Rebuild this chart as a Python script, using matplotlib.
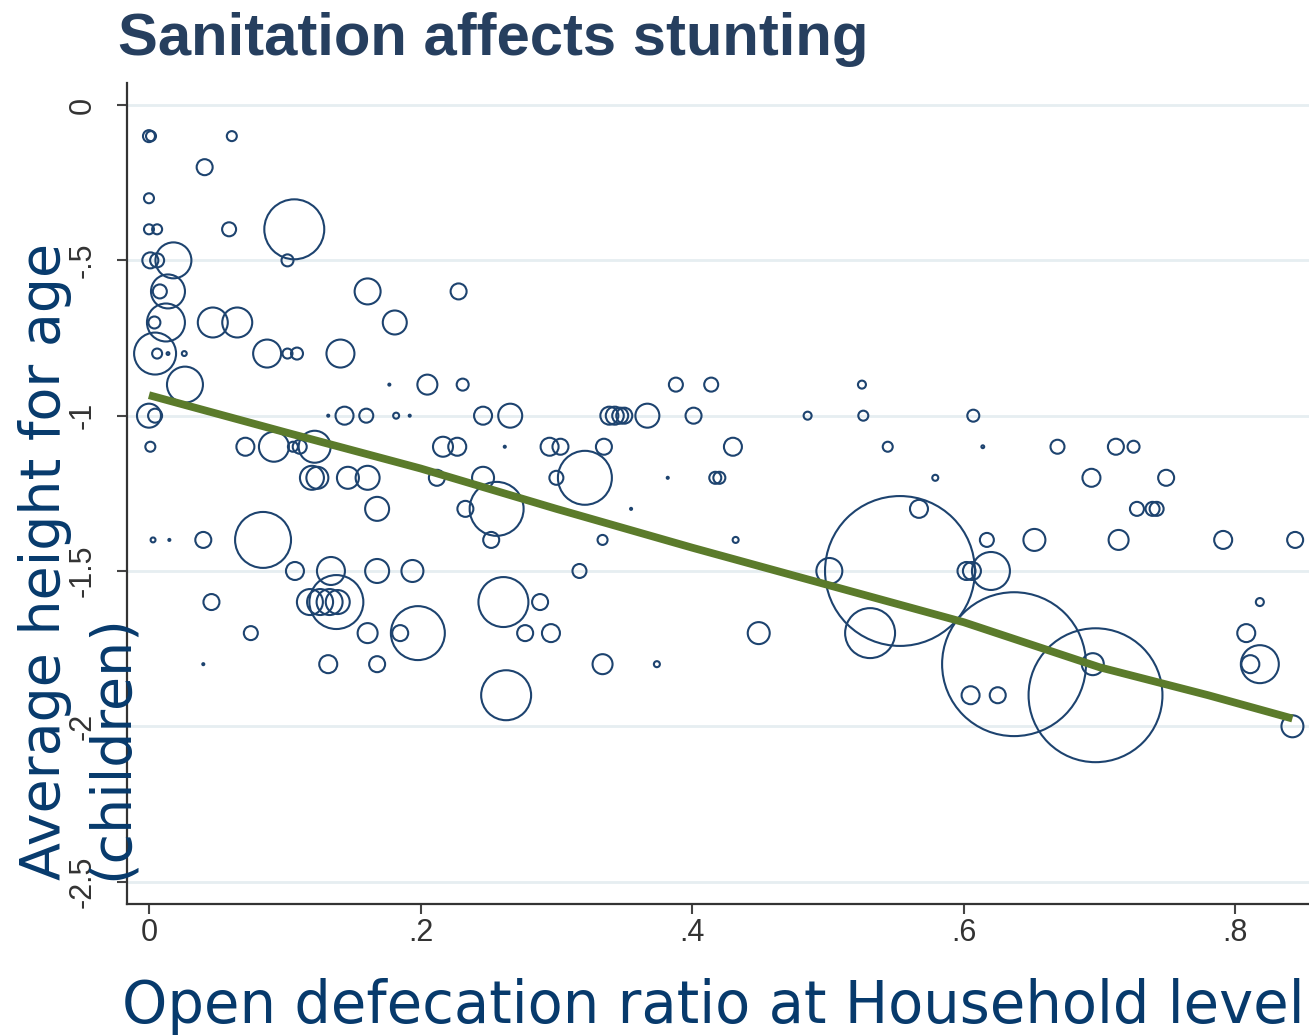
import numpy as np
import matplotlib
matplotlib.use('Agg')
import matplotlib.pyplot as plt

# open defecation ratio, mean height-for-age z score and number of households per cluster
od_ratio = [
    0.000, 0.0015, 0.061,
    0.041,
    0.000,
    0.000, 0.006, 0.059, 0.107,
    0.001, 0.006, 0.018, 0.102,
    0.008, 0.014, 0.161, 0.228,
    0.004, 0.0125, 0.047, 0.065, 0.181,
    0.0045, 0.006, 0.014, 0.026, 0.087, 0.102, 0.109, 0.141,
    0.0265, 0.177, 0.205, 0.231, 0.388, 0.414, 0.525,
    0.000, 0.0045, 0.132, 0.144, 0.160, 0.182, 0.192, 0.246, 0.266, 0.339, 0.343, 0.347, 0.350,
    0.367, 0.401, 0.485, 0.526, 0.607,
    0.001, 0.071, 0.092, 0.106, 0.111, 0.122, 0.2165, 0.227, 0.262, 0.295, 0.303, 0.335, 0.430,
    0.544, 0.614, 0.669, 0.712, 0.725,
    0.120, 0.124, 0.1465, 0.161, 0.212, 0.246, 0.300, 0.321, 0.382, 0.417, 0.420, 0.579, 0.694, 0.749,
    0.168, 0.233, 0.256, 0.355, 0.567, 0.7275, 0.739, 0.742,
    0.003, 0.015, 0.040, 0.084, 0.252, 0.334, 0.432, 0.617, 0.652, 0.714, 0.791, 0.844,
    0.1075, 0.134, 0.168, 0.194, 0.317, 0.501, 0.553, 0.602, 0.606, 0.620,
    0.046, 0.1185, 0.126, 0.133, 0.139, 0.138, 0.261, 0.288, 0.818,
    0.075, 0.161, 0.185, 0.198, 0.277, 0.296, 0.449, 0.531, 0.808,
    0.040, 0.132, 0.168, 0.334, 0.374, 0.637, 0.695, 0.811, 0.818,
    0.263, 0.605, 0.625, 0.697,
    0.842,
]
haz = [
    -0.1, -0.1, -0.1,
    -0.2,
    -0.3,
    -0.4, -0.4, -0.4, -0.4,
    -0.5, -0.5, -0.5, -0.5,
    -0.6, -0.6, -0.6, -0.6,
    -0.7, -0.7, -0.7, -0.7, -0.7,
    -0.8, -0.8, -0.8, -0.8, -0.8, -0.8, -0.8, -0.8,
    -0.9, -0.9, -0.9, -0.9, -0.9, -0.9, -0.9,
    -1.0, -1.0, -1.0, -1.0, -1.0, -1.0, -1.0, -1.0, -1.0, -1.0, -1.0, -1.0, -1.0,
    -1.0, -1.0, -1.0, -1.0, -1.0,
    -1.1, -1.1, -1.1, -1.1, -1.1, -1.1, -1.1, -1.1, -1.1, -1.1, -1.1, -1.1, -1.1,
    -1.1, -1.1, -1.1, -1.1, -1.1,
    -1.2, -1.2, -1.2, -1.2, -1.2, -1.2, -1.2, -1.2, -1.2, -1.2, -1.2, -1.2, -1.2, -1.2,
    -1.3, -1.3, -1.3, -1.3, -1.3, -1.3, -1.3, -1.3,
    -1.4, -1.4, -1.4, -1.4, -1.4, -1.4, -1.4, -1.4, -1.4, -1.4, -1.4, -1.4,
    -1.5, -1.5, -1.5, -1.5, -1.5, -1.5, -1.5, -1.5, -1.5, -1.5,
    -1.6, -1.6, -1.6, -1.6, -1.6, -1.6, -1.6, -1.6, -1.6,
    -1.7, -1.7, -1.7, -1.7, -1.7, -1.7, -1.7, -1.7, -1.7,
    -1.8, -1.8, -1.8, -1.8, -1.8, -1.8, -1.8, -1.8, -1.8,
    -1.9, -1.9, -1.9, -1.9,
    -2.0,
]
households = [
    36, 25, 25,
    64,
    25,
    25, 25, 49, 900,
    64, 49, 324, 36,
    49, 289, 169, 64,
    36, 361, 225, 225, 144,
    441, 25, 2, 6, 196, 25, 36, 196,
    324, 1, 100, 36, 49, 49, 16,
    144, 49, 1, 81, 49, 9, 1, 81, 144, 81, 81, 64, 64,
    144, 64, 16, 25, 36,
    25, 81, 225, 25, 49, 256, 100, 81, 1, 81, 64, 64, 81,
    25, 2, 49, 64, 36,
    144, 121, 121, 144, 64, 121, 49, 729, 1, 36, 36, 9, 81, 64,
    144, 64, 729, 1, 81, 49, 49, 49,
    6, 1, 64, 784, 64, 25, 9, 49, 121, 100, 81, 64,
    81, 196, 144, 121, 49, 169, 5625, 81, 81, 361,
    64, 169, 169, 169, 144, 729, 625, 64, 16,
    49, 100, 64, 729, 64, 81, 121, 625, 81,
    1, 81, 64, 100, 9, 5184, 121, 81, 361,
    625, 81, 64, 4489,
    121,
]

# smoothed fit of height for age on open defecation
fit_x = [0.0, 0.1, 0.2, 0.3, 0.4, 0.5, 0.6, 0.7, 0.78, 0.842]
fit_y = [-0.934, -1.053, -1.17, -1.30, -1.425, -1.545, -1.665, -1.81, -1.90, -1.975]

y_ticks = [0, -0.5, -1, -1.5, -2, -2.5]
y_tick_labels = ['0', '-.5', '-1', '-1.5', '-2', '-2.5']
x_ticks = [0, 0.2, 0.4, 0.6, 0.8]
x_tick_labels = ['0', '.2', '.4', '.6', '.8']

navy = '#1d436f'
label_blue = '#073a6c'

fig = plt.figure(figsize=(13.09, 10.35), dpi=100)
ax = fig.add_axes([0.097, 0.1266, 0.903, 0.7932])

sizes = np.array(households) * 2.07
ax.scatter(od_ratio, haz, s=sizes, facecolors='none', edgecolors=navy,
           linewidths=1.5, zorder=3, clip_on=False)
ax.plot(fit_x, fit_y, color='#5b7b2b', lw=5.6, zorder=4, solid_capstyle='butt')

ax.set_xlim(-0.0162, 0.8542)
ax.set_ylim(-2.572, 0.071)

ax.set_yticks(y_ticks)
ax.set_yticklabels(y_tick_labels, rotation=90, va='center', fontsize=22,
                   family='Liberation Sans', color='#333333')
ax.set_xticks(x_ticks)
ax.set_xticklabels(x_tick_labels, fontsize=22, family='Liberation Sans', color='#333333')
ax.tick_params(axis='y', length=7, width=1.5, color='#444444', pad=14)
ax.tick_params(axis='x', length=7, width=1.5, color='#444444', pad=3)

for y in y_ticks:
    ax.axhline(y, color='#e6eef1', lw=2, zorder=1)

for side in ['top', 'right']:
    ax.spines[side].set_visible(False)
for side in ['left', 'bottom']:
    ax.spines[side].set_color('#333333')
    ax.spines[side].set_linewidth(1.6)

fig.text(118 / 1309, 1 - 55 / 1035, 'Sanitation affects stunting', fontsize=43,
         fontweight='bold', family='Liberation Sans', color='#263f5f', va='baseline')

fig.text(0.014, 1 - 880 / 1035, 'Average height for age\n(children)', rotation=90,
         ha='left', va='bottom', multialignment='left', linespacing=1.3, fontsize=40,
         family='DejaVu Sans', color=label_blue, zorder=5)

fig.text(122 / 1309, 1 - 1023 / 1035, 'Open defecation ratio at Household level',
         fontsize=41.5, family='DejaVu Sans', color=label_blue, va='baseline')

fig.savefig('out.png', dpi=100)
